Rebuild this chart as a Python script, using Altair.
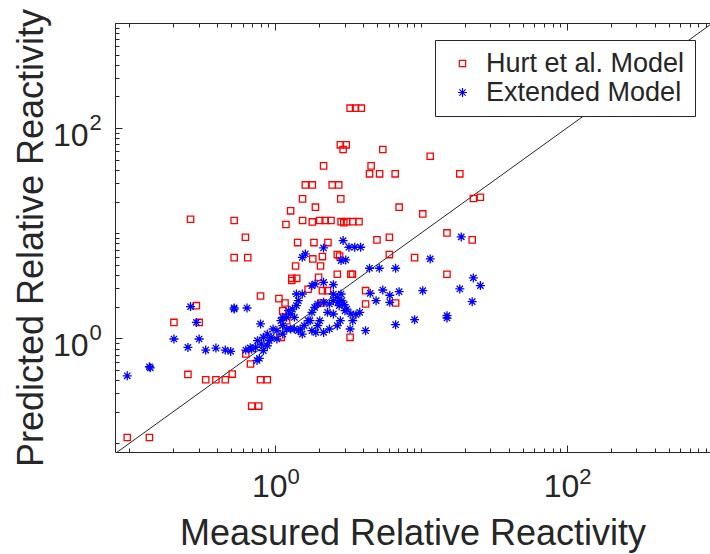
import altair as alt
import numpy as np
import pandas as pd

# ---- data: log10(measured), log10(predicted) ----
hurt_points = [
    (0.515, 2.19), (0.552, 2.19), (0.592, 2.19),
    (0.448, 1.841), (0.488, 1.841), (0.467, 1.797),
    (0.739, 1.797), (1.064, 1.733), (0.333, 1.641), (0.659, 1.641),
    (0.648, 1.565), (0.717, 1.565), (0.824, 1.565), (1.267, 1.565),
    (0.208, 1.46), (0.256, 1.46), (0.392, 1.46), (0.437, 1.46),
    (0.189, 1.327), (0.451, 1.327), (0.277, 1.248), (0.851, 1.248),
    (0.107, 1.213), (1.013, 1.184), (-0.579, 1.133), (-0.28, 1.121),
    (0.075, 1.083),
    (0.189, 1.121), (0.256, 1.108), (0.307, 1.121), (0.344, 1.121), (0.384, 1.121),
    (0.453, 1.11), (0.491, 1.11), (0.533, 1.11), (0.576, 1.11), (0.472, 1.10),
    (1.36, 1.33), (1.408, 1.343), (-0.203, 0.962),
    (0.155, 0.911), (0.267, 0.911), (0.363, 0.911),
    (0.699, 0.937), (0.784, 0.962), (1.179, 1.003), (1.352, 0.937),
    (-0.28, 0.768), (-0.187, 0.768), (0.259, 0.756), (0.325, 0.778),
    (0.427, 0.797), (0.443, 0.784), (0.784, 0.797), (0.957, 0.768),
    (0.141, 0.689), (0.312, 0.689),
    (0.115, 0.571), (0.149, 0.571), (0.115, 0.55),
    (0.427, 0.61), (0.52, 0.61), (0.531, 0.61), (0.299, 0.581), (1.179, 0.61),
    (-0.099, 0.403), (0.027, 0.378),
    (0.227, 0.467), (0.325, 0.454), (0.36, 0.454), (0.621, 0.454),
    (-0.539, 0.311), (-0.52, 0.152), (-0.693, 0.152),
    (0.069, 0.337), (0.32, 0.337), (0.621, 0.327), (0.827, 0.337),
    (0.043, 0.01), (0.515, 0.01),
    (-0.597, -0.343), (-0.475, -0.394), (-0.405, -0.394), (-0.341, -0.394),
    (-0.293, -0.34), (-0.2, -0.149), (-0.168, -0.244),
    (-0.099, -0.394), (-0.053, -0.394),
    (-0.16, -0.644), (-0.112, -0.644),
    (-1.013, -0.943), (-0.861, -0.943),
    (0.053, 0.263), (0.08, 0.168),
]

extended_points = [
    (-1.013, -0.356), (-0.861, -0.27), (-0.855, -0.28),
    (-0.693, -0.006), (-0.597, -0.086), (-0.52, -0.006),
    (-0.579, 0.302), (-0.539, 0.152),
    (-0.475, -0.111), (-0.405, -0.092), (-0.341, -0.111), (-0.304, -0.124),
    (-0.28, 0.279), (-0.28, 0.29), (-0.192, 0.289),
    (-0.2, -0.111), (-0.17, -0.09), (-0.123, -0.21), (-0.107, -0.19),
    (-0.099, 0.137),
    (-0.12, -0.022), (-0.093, -0.054), (-0.08, -0.117), (-0.053, 0.041),
    (-0.027, 0.01), (-0.013, 0.089), (0.013, 0.073), (0.04, 0.168),
    (0.053, 0.121), (0.08, 0.2), (0.093, 0.263), (0.107, 0.232),
    (0.12, 0.279), (0.147, 0.311), (0.16, 0.359), (0.147, 0.422),
    (0.187, 0.422), (0.133, 0.089), (0.173, 0.089), (0.2, 0.121),
    (0.227, 0.168), (0.253, 0.248), (0.272, 0.295), (0.293, 0.327),
    (0.333, 0.343), (0.373, 0.327), (0.4, 0.359), (0.432, 0.343),
    (0.459, 0.359), (0.475, 0.321), (0.493, 0.279), (0.52, 0.232),
    (0.555, 0.225), (0.581, 0.248),
    (0.187, 0.771), (0.208, 0.803), (0.253, 0.502), (0.275, 0.517),
    (0.333, 0.86), (0.333, 0.533), (0.4, 0.511), (0.467, 0.93),
    (0.507, 0.867), (0.547, 0.867), (0.587, 0.867),
    (0.453, 0.74), (0.485, 0.746),
    (0.648, 0.667), (0.715, 0.667), (0.827, 0.667),
    (1.064, 0.756), (1.277, 0.965),
    (0.653, 0.429), (0.693, 0.359), (0.739, 0.46), (0.787, 0.41),
    (0.787, 0.343), (0.851, 0.444), (1.013, 0.454), (1.267, 0.47),
    (1.36, 0.575), (1.408, 0.502), (1.352, 0.349),
    (1.179, 0.216), (1.179, 0.194), (0.957, 0.178), (0.827, 0.13),
    (0.621, 0.073), (0.515, 0.089), (0.427, 0.121), (0.448, 0.168),
    (0.533, 0.168), (0.28, 0.057), (0.333, 0.057), (0.307, 0.168),
    (0.293, 0.121), (0.4, 0.422), (0.427, 0.39), (0.453, 0.422),
    (0.48, 0.263), (0.44, 0.311), (0.373, 0.089), (0.253, 0.073),
    (0.187, 0.041), (0.16, 0.073), (0.24, 0.168), (0.36, 0.248),
    (0.4, 0.232), (-0.133, -0.086), (-0.16, -0.102), (0.013, -0.006),
    (0.053, 0.041), (-0.04, -0.022), (-0.08, 0.01), (-0.053, -0.07),
    (0.08, 0.089), (0.107, 0.089), (0.053, 0.2), (0.133, 0.2),
]

series_names = ["Hurt et al. Model", "Extended Model"]
series_colors = ["#ff0000", "#0000ff"]
diag_values = [0.08, 1000]
label_ticks = [1, 100]
x_ticks = [0.1, 0.2, 0.3, 0.4, 0.5, 0.6, 0.7, 0.8, 0.9,
           1, 2, 3, 4, 5, 6, 7, 8, 9,
           10, 20, 30, 40, 50, 60, 70, 80, 90,
           100, 200, 300, 400, 500, 600, 700, 800, 900]
y_ticks = x_ticks + [1000]
x_domain = [0.08, 960]
y_domain = [0.083, 1000]

W, H = 595, 429
FONT = "Liberation Sans"
TXT = "#262626"
ASTERISK = "M-1,0L1,0M0,-1L0,1M-0.7,-0.7L0.7,0.7M-0.7,0.7L0.7,-0.7"


def frame(points, name):
    arr = np.array(points, dtype=float)
    return pd.DataFrame({
        "measured": np.power(10.0, arr[:, 0]),
        "predicted": np.power(10.0, arr[:, 1]),
        "model": name,
    })


df = pd.concat([frame(hurt_points, series_names[0]),
                frame(extended_points, series_names[1])], ignore_index=True)
diag = pd.DataFrame({"x": diag_values, "y": diag_values})

xs = alt.Scale(type="log", domain=x_domain, nice=False)
ys = alt.Scale(type="log", domain=y_domain, nice=False)

tick_len = {"condition": {"test": "datum.value == 1 || datum.value == 100", "value": 7},
            "value": 4}


def tick_axis(orient, offset, values):
    return alt.Axis(orient=orient, offset=offset, values=values, labels=False,
                    domain=False, grid=False, ticks=True, tickSize=tick_len,
                    tickColor=TXT, tickWidth=1, title=None)


sup_expr = "datum.value == 1 ? '0' : '2'"

# layer 1: diagonal line, carries bottom and left inward ticks
line = alt.Chart(diag).mark_line(color=TXT, strokeWidth=1, clip=True).encode(
    x=alt.X("x:Q", scale=xs, axis=tick_axis("top", -H, x_ticks)),
    y=alt.Y("y:Q", scale=ys, axis=tick_axis("right", -W, y_ticks)),
)

legend = alt.Legend(
    title=None, orient="none", legendX=320, legendY=17,
    fillColor="white", strokeColor=TXT, padding=10,
    labelFont=FONT, labelFontSize=27, labelColor=TXT, labelLimit=400,
    symbolSize=28, symbolStrokeWidth=1.2, symbolOffset=4,
    labelOffset=10, rowPadding=1,
)

points = alt.Chart(df).mark_point(filled=False, strokeWidth=1.3, opacity=1, clip=True).encode(
    x=alt.X("measured:Q", scale=xs, axis=alt.Axis(
        orient="bottom", values=label_ticks, labelExpr="'10'",
        labelFont=FONT, labelFontSize=32, labelColor=TXT,
        labelAlign="right", labelOffset=12, labelBaseline="alphabetic",
        labelPadding=44, labelFlush=False, labelOverlap=False,
        ticks=False, domain=False, grid=False,
        title="Measured Relative Reactivity", titleFont=FONT,
        titleFontSize=36, titleFontWeight="normal", titleColor=TXT,
        titleY=92, titleBaseline="alphabetic")),
    y=alt.Y("predicted:Q", scale=ys, axis=alt.Axis(
        orient="left", values=label_ticks, labelExpr="'10'",
        labelFont=FONT, labelFontSize=32, labelColor=TXT,
        labelAlign="right", labelBaseline="alphabetic", labelOffset=17,
        labelPadding=27, labelFlush=False, labelOverlap=False,
        ticks=False, domain=False, grid=False,
        title="Predicted Relative Reactivity", titleFont=FONT,
        titleFontSize=36, titleFontWeight="normal", titleColor=TXT,
        titleX=-73, titleBaseline="alphabetic")),
    color=alt.Color("model:N", scale=alt.Scale(domain=series_names, range=series_colors),
                    legend=legend),
    shape=alt.Shape("model:N", scale=alt.Scale(domain=series_names, range=["square", ASTERISK]),
                    legend=legend),
    size=alt.Size("model:N", scale=alt.Scale(domain=series_names, range=[40, 81]), legend=None),
)

# layer 3: invisible, carries top inward ticks and y superscripts
top_ticks = alt.Chart(diag).mark_line(strokeOpacity=0).encode(
    x=alt.X("x:Q", scale=xs, axis=tick_axis("bottom", -H, x_ticks)),
    y=alt.Y("y:Q", scale=ys, axis=alt.Axis(
        orient="left", values=label_ticks, labelExpr=sup_expr,
        labelFont=FONT, labelFontSize=22, labelColor=TXT,
        labelAlign="left", labelBaseline="alphabetic", labelOffset=1,
        labelPadding=26, labelFlush=False, labelOverlap=False,
        ticks=False, domain=False, grid=False, title=None)),
)

# layer 4: invisible, carries x superscripts
sup_x = alt.Chart(diag).mark_line(strokeOpacity=0).encode(
    x=alt.X("x:Q", scale=xs, axis=alt.Axis(
        orient="bottom", values=label_ticks, labelExpr=sup_expr,
        labelFont=FONT, labelFontSize=22, labelColor=TXT,
        labelAlign="left", labelOffset=12, labelBaseline="alphabetic",
        labelPadding=31, labelFlush=False, labelOverlap=False,
        ticks=False, domain=False, grid=False, title=None)),
    y=alt.Y("y:Q", scale=ys, axis=None),
)

chart = alt.layer(line, points, top_ticks, sup_x).resolve_axis(
    x="independent", y="independent"
).properties(
    width=W, height=H,
    padding={"left": 115, "top": 23, "right": 0, "bottom": 102},
    autosize="none",
    background="white",
).configure_view(stroke=TXT, strokeWidth=1)

chart.save("out.html", embed_options={"renderer": "svg", "actions": False})
